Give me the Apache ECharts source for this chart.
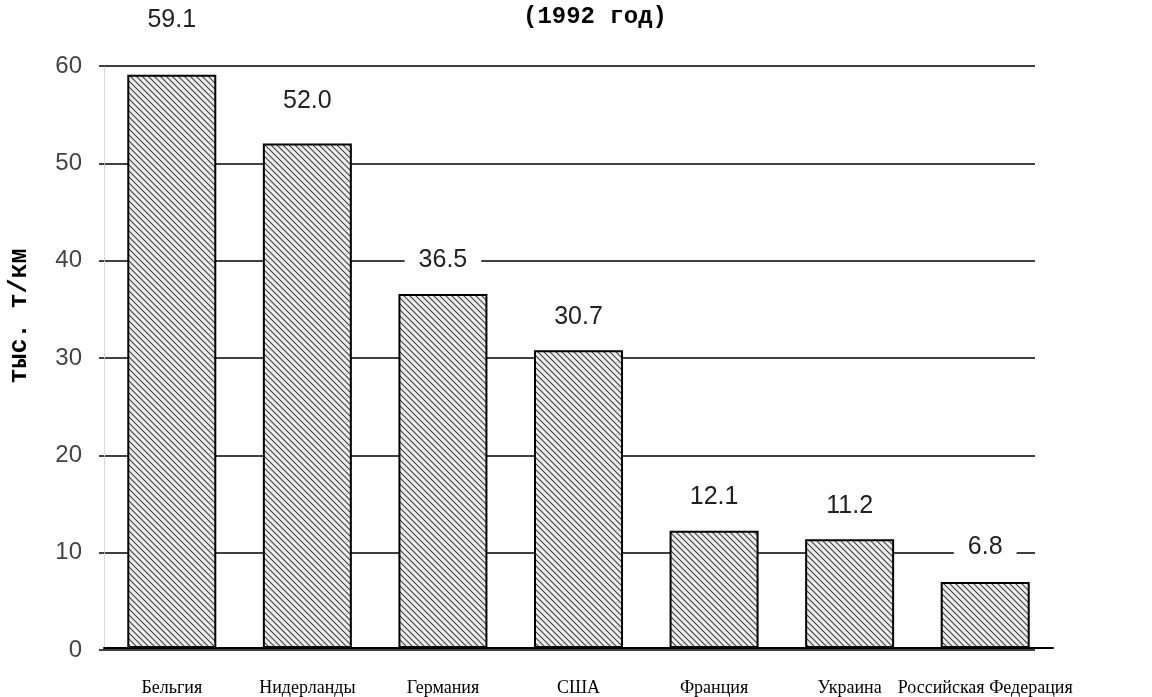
<!DOCTYPE html>
<html>
<head>
<meta charset="utf-8">
<script src="https://cdn.jsdelivr.net/npm/echarts@6/dist/echarts.min.js"></script>
<style>html,body{margin:0;padding:0;background:#fff}#c{width:1152px;height:697px}</style>
</head>
<body>
<div id="c"></div>
<script>
const categories = ['Бельгия', 'Нидерланды', 'Германия', 'США', 'Франция', 'Украина', 'Российская Федерация'];
const values = [59.1, 52.0, 36.5, 30.7, 12.1, 11.2, 6.8];
const titleText = '(1992 год)';
const yAxisName = 'тыс. т/км';

// styling only: label distance above each bar (px)
const labelLift = [40, 28, 19, 19, 19, 19, 20];

function hatch() {
  const s = 6;
  const c = document.createElement('canvas');
  c.width = s; c.height = s;
  const g = c.getContext('2d');
  g.fillStyle = '#ededed';
  g.fillRect(0, 0, s, s);
  g.strokeStyle = '#404040';
  g.lineWidth = 1.1;
  g.beginPath();
  g.moveTo(-1, -1); g.lineTo(s + 1, s + 1);
  g.moveTo(-1, s - 1); g.lineTo(1, s + 1);
  g.moveTo(s - 1, -1); g.lineTo(s + 1, 1);
  g.stroke();
  return c;
}

const yCommon = {type: 'value', min: 0, max: 60, interval: 10};

const chart = echarts.init(document.getElementById('c'), null, {renderer: 'canvas'});
chart.setOption({
  backgroundColor: '#fff',
  animation: false,
  title: {
    text: titleText, left: 590, top: 0, textAlign: 'center',
    textStyle: {fontFamily: 'Liberation Mono', fontWeight: 'bold', fontSize: 24, color: '#000'}
  },
  graphic: [{
    type: 'text', x: 20, y: 316, rotation: Math.PI / 2,
    style: {
      text: yAxisName, textAlign: 'center', textVerticalAlign: 'middle',
      font: 'bold 25px "Liberation Mono"', fill: '#000'
    }
  }],
  grid: [
    {left: 104, width: 949, top: 66, bottom: 47},
    {left: 99, width: 936, top: 66, bottom: 47}
  ],
  xAxis: [{
    type: 'category', data: categories, gridIndex: 0,
    axisLine: {lineStyle: {color: '#000', width: 2}},
    axisTick: {show: false},
    axisLabel: {fontFamily: 'Liberation Serif', fontSize: 18, color: '#000', margin: 31, interval: 0}
  }, {
    type: 'category', data: categories, gridIndex: 1, show: false
  }],
  yAxis: [Object.assign({}, yCommon, {
    gridIndex: 0,
    axisLine: {show: true, lineStyle: {color: '#d0d0d0', type: 'dotted', width: 1}},
    axisTick: {show: false}, axisLabel: {show: false}, splitLine: {show: false}
  }), Object.assign({}, yCommon, {
    gridIndex: 1,
    axisLine: {show: false}, axisTick: {show: false},
    axisLabel: {fontFamily: 'Liberation Sans', fontSize: 24, color: '#444', margin: 17},
    splitLine: {lineStyle: {color: '#000', width: 1.5}}
  })],
  series: [{
    type: 'bar', barWidth: 89, xAxisIndex: 0, yAxisIndex: 0, z: 5,
    data: values.map((v, i) => ({value: v, label: {distance: labelLift[i]}})),
    itemStyle: {color: {image: hatch(), repeat: 'repeat'}, borderColor: '#000', borderWidth: 2},
    label: {
      show: true, position: 'top',
      formatter: p => p.value.toFixed(1),
      fontFamily: 'Liberation Sans', fontSize: 25, color: '#222',
      backgroundColor: '#fff', padding: [2, 14]
    }
  }]
});
</script>
</body>
</html>
